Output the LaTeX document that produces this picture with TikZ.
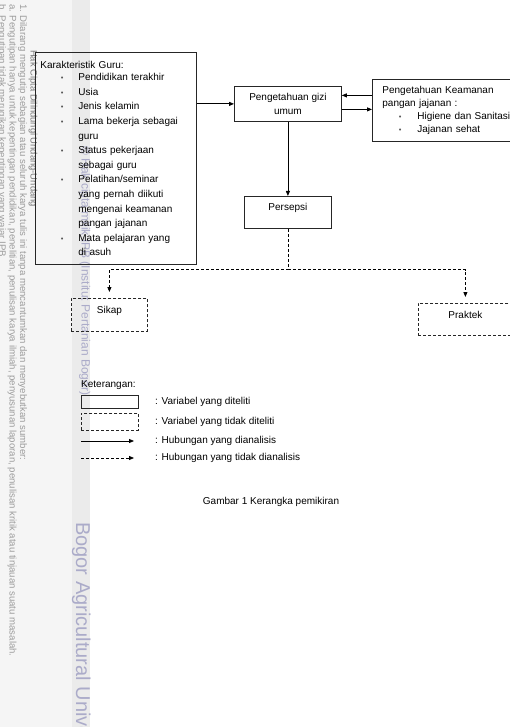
\documentclass[tikz,border=0pt]{standalone}
\usepackage{fontspec}
\setmainfont{Liberation Sans}
\usetikzlibrary{arrows.meta,positioning}
\definecolor{wmabu}{HTML}{9C9C9C}
\definecolor{wmtua}{HTML}{7A7A7A}
\definecolor{wmungu}{HTML}{ABABC9}
\newcommand{\bulat}{{\color{black!65}\fontsize{7.5}{7.5}\selectfont\textbullet}}
\newcommand{\titik}{\hspace*{20.5pt}\makebox[17.5pt][l]{\bulat}}
\newcommand{\lanjut}{\hspace*{38pt}}
\newcommand{\titikk}{\hspace*{16.5pt}\makebox[18.5pt][l]{\bulat}}
\begin{document}
\begin{tikzpicture}[x=1pt,y=-1pt,
	font=\fontsize{10}{14}\selectfont,
	kotak/.style={draw=black!85,line width=0.8pt},
	kotakputus/.style={kotak,dash pattern=on 3pt off 2pt},
	putus/.style={dash pattern=on 3pt off 2pt},
	panah/.style={line width=0.8pt,-{Triangle[length=5pt,width=4pt]}},
	tanda/.style={rotate=-90,anchor=base west,inner sep=0}]
			\useasboundingbox(0,0)rectangle(510,727);
			\clip(0,0)rectangle(510,727);
			\fill[black!4](0,0)rectangle(72,727);
			\fill[black!8](72,0)rectangle(90,727);
			\node[tanda,text=wmabu,font=\fontsize{9.6}{9}\selectfont](wm1)at(20,4){1. Dilarang mengutip sebagian atau seluruh karya tulis ini tanpa mencantumkan dan menyebutkan sumber:};
			\node[tanda,text=wmabu,font=\fontsize{9.6}{9}\selectfont](wm2)at(9.5,4){a. Pengutipan hanya untuk kepentingan pendidikan, penelitian, penulisan karya ilmiah, penyusunan laporan, penulisan kritik atau tinjauan suatu masalah.};
			\node[tanda,text=wmabu,font=\fontsize{9.6}{9}\selectfont](wm3)at(-1,4){b. Pengutipan tidak merugikan kepentingan yang wajar IPB.};
			\node[tanda,text=wmtua,font=\fontsize{9.4}{9}\selectfont](wm4)at(30.5,50){Hak Cipta Dilindungi Undang-Undang};
			\node[tanda,text=wmungu,font=\fontsize{12}{12}\selectfont](wm5)at(81.5,146){© Hak cipta milik IPB (Institut Pertanian Bogor)};
			\node[tanda,text=wmungu,font=\fontsize{20}{20}\selectfont](wm6)at(76,522){Bogor Agricultural University};
			\node[kotak,anchor=north west,text width=151pt,inner xsep=5pt,minimum height=212pt,align=left,font=\fontsize{10}{14.6}\selectfont](karakteristik)at(35,52){Karakteristik Guru:\\[-2pt]
				\titik Pendidikan terakhir\\
				\titik Usia\\
				\titik Jenis kelamin\\
				\titik Lama bekerja sebagai\\
				\lanjut guru\\
				\titik Status pekerjaan\\
				\lanjut sebagai guru\\
				\titik Pelatihan/seminar\\
				\lanjut yang pernah diikuti\\
				\lanjut mengenai keamanan\\
				\lanjut pangan jajanan\\
				\titik Mata pelajaran yang\\
				\lanjut di asuh};
			\node[kotak,anchor=north west,minimum width=107pt,minimum height=35pt,align=center](gizi)at(234,86){Pengetahuan gizi\\umum};
			\node[kotak,anchor=north west,text width=150pt,inner xsep=10pt,minimum height=62pt,align=left,font=\fontsize{10}{12.7}\selectfont](keamanan)at(372,79){Pengetahuan Keamanan\\
				pangan jajanan :\\
				\titikk Higiene dan Sanitasi\\
				\titikk Jajanan sehat};
			\node[kotak,anchor=north west,minimum width=87pt,inner ysep=3pt,text height=11pt,text depth=15pt](persepsi)at(244,196){Persepsi};
			\node[kotakputus,anchor=north west,minimum width=76pt,inner ysep=3pt,text height=12pt,text depth=15pt](sikap)at(71,298){Sikap};
			\node[kotakputus,anchor=north west,minimum width=94pt,inner ysep=3pt,text height=12pt,text depth=14pt](praktek)at(418,303){Praktek};
			\coordinate(giziA)at([yshift=8.5pt]gizi.east);
			\coordinate(giziB)at([yshift=-5.5pt]gizi.east);
			\draw[panah](karakteristik.east |- gizi.west)--(gizi.west);
			\draw[panah](giziA -| keamanan.west)--(giziA);
			\draw[panah](giziB)--(giziB -| keamanan.west);
			\draw[panah](gizi.south)--(persepsi.north);
			\draw[panah,putus,shorten >=6pt](persepsi.south)--++(0,41)coordinate(cabang)-|(sikap.north);
			\draw[panah,putus,shorten >=6pt](cabang)-|(praktek.north);
			\node[anchor=west,inner sep=0](keterangan)at(81,385){Keterangan:};
			\node[kotak,anchor=north west,minimum width=57pt,minimum height=13pt](ketkotak)at(81,395){};
			\node[kotakputus,anchor=north west,minimum width=57pt,minimum height=17pt](ketputus)at(81,413){};
			\coordinate(ketA1)at(81,441);
			\coordinate(ketA2)at(134,441);
			\coordinate(ketB1)at(81,458);
			\coordinate(ketB2)at(134,458);
			\draw[panah](ketA1)--(ketA2);
			\draw[panah,putus](ketB1)--(ketB2);
			\node[anchor=west,inner sep=0](ket1)at(155,402){: Variabel yang diteliti};
			\node[anchor=west,inner sep=0](ket2)at(155,422){: Variabel yang tidak diteliti};
			\node[anchor=west,inner sep=0](ket3)at(155,441){: Hubungan yang dianalisis};
			\node[anchor=west,inner sep=0](ket4)at(155,458){: Hubungan yang tidak dianalisis};
			\node(judul)at(271,502){Gambar 1 Kerangka pemikiran};
		\end{tikzpicture}
\end{document}
